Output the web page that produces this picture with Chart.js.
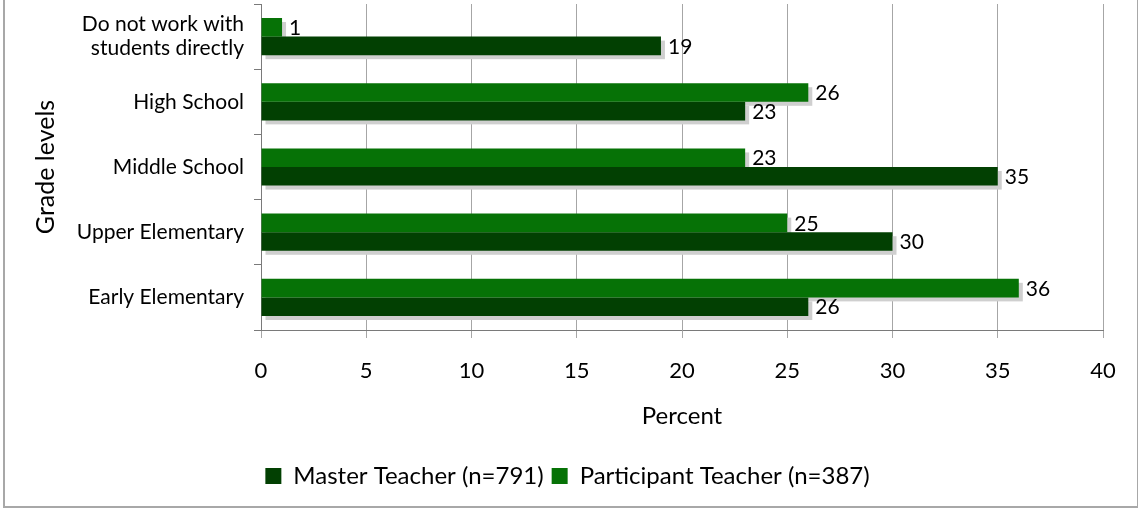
<!DOCTYPE html>
<html lang="en">
<head>
    <meta charset="UTF-8">
    <title>Grade levels</title>
    <script src="https://cdn.jsdelivr.net/npm/chart.js"></script>
    <style>
        html, body { margin: 0; padding: 0; background: #fff; }
        #wrap { position: relative; width: 1138px; height: 508px; }
        #frame {
            position: absolute; left: 3px; top: -10px; width: 1136px; height: 518px;
            border: 2px solid #a8a8a8; box-sizing: border-box; pointer-events: none;
        }
    </style>
</head>
<body>
    <div id="wrap">
        <canvas id="chart"></canvas>
        <div id="frame"></div>
    </div>

    <script>
        // Datos (de arriba hacia abajo)
        const categorias = [['Do not work with', 'students directly'], 'High School', 'Middle School', 'Upper Elementary', 'Early Elementary'];
        const participante = [1, 26, 23, 25, 36];
        const maestro = [19, 23, 35, 30, 26];
        const ticksX = [0, 5, 10, 15, 20, 25, 30, 35, 40];

        const FONT = 'Lato, "DejaVu Sans", sans-serif';

        // Sombra gris debajo de cada barra
        const sombra = {
            id: 'sombra',
            beforeDatasetsDraw(chart) {
                const ctx = chart.ctx;
                ctx.save();
                ctx.fillStyle = '#cfcfcf';
                chart.data.datasets.forEach((ds, i) => {
                    const meta = chart.getDatasetMeta(i);
                    meta.data.forEach(bar => {
                        const p = bar.getProps(['x', 'y', 'base', 'height'], true);
                        ctx.fillRect(p.base + 4, p.y - p.height / 2 + 4, p.x - p.base, p.height);
                    });
                });
                ctx.restore();
            }
        };

        // Etiquetas de valor
        const etiquetas = {
            id: 'etiquetas',
            afterDatasetsDraw(chart) {
                const ctx = chart.ctx;
                ctx.save();
                ctx.font = '21px ' + FONT;
                ctx.fillStyle = '#000';
                ctx.textBaseline = 'middle';
                ctx.textAlign = 'left';
                chart.data.datasets.forEach((ds, i) => {
                    const meta = chart.getDatasetMeta(i);
                    meta.data.forEach((bar, j) => {
                        const p = bar.getProps(['x', 'y'], true);
                        ctx.fillText(String(ds.data[j]), p.x + 7, p.y + 1);
                    });
                });
                ctx.restore();
            }
        };

        const ctx = document.getElementById('chart').getContext('2d');
        const chart = new Chart(ctx, {
            type: 'bar',
            data: {
                labels: categorias,
                datasets: [
                    {
                        label: 'Participant Teacher (n=387)',
                        data: participante,
                        backgroundColor: '#067206',
                        borderWidth: 0,
                        categoryPercentage: 0.57,
                        barPercentage: 1.0
                    },
                    {
                        label: 'Master Teacher (n=791)',
                        data: maestro,
                        backgroundColor: '#024002',
                        borderWidth: 0,
                        categoryPercentage: 0.57,
                        barPercentage: 1.0
                    }
                ]
            },
            options: {
                indexAxis: 'y',
                responsive: true,
                maintainAspectRatio: false,
                animation: false,
                layout: {
                    padding: { top: 4, right: 3, left: 0, bottom: 10 }
                },
                plugins: {
                    tooltip: { enabled: false },
                    legend: {
                        position: 'bottom',
                        reverse: true,
                        labels: {
                            boxWidth: 16,
                            boxHeight: 16,
                            padding: 8,
                            color: '#000',
                            font: { family: FONT, size: 24 }
                        }
                    }
                },
                scales: {
                    x: {
                        min: 0,
                        max: 40,
                        afterBuildTicks: s => { s.ticks = ticksX.map(v => ({ value: v })); },
                        afterFit: s => { s.height = 126; },
                        ticks: {
                            color: '#000',
                            padding: 20,
                            font: { family: FONT, size: 22 }
                        },
                        grid: {
                            color: '#a6a6a6',
                            tickLength: 8
                        },
                        border: { color: '#7a7a7a' },
                        title: {
                            display: true,
                            text: 'Percent',
                            color: '#000',
                            padding: { top: 0, bottom: 25 },
                            font: { family: FONT, size: 24 }
                        }
                    },
                    y: {
                        afterFit: s => { s.width = 261; s.paddingTop = 0; s.paddingBottom = 0; },
                        ticks: {
                            color: '#000',
                            padding: 10,
                            font: { family: FONT, size: 21, lineHeight: 1.15 }
                        },
                        grid: {
                            drawOnChartArea: false,
                            color: '#7a7a7a',
                            tickLength: 7
                        },
                        border: { color: '#7a7a7a' },
                        title: {
                            display: true,
                            text: 'Grade levels',
                            color: '#000',
                            padding: { top: 31, bottom: 0 },
                            font: { family: FONT, size: 25 }
                        }
                    },
                    // espacio a la derecha (el área del gráfico termina antes que la leyenda)
                    derecha: {
                        type: 'linear',
                        position: 'right',
                        afterFit: s => { s.width = 32; },
                        grid: { display: false },
                        ticks: { display: false },
                        border: { display: false }
                    }
                }
            },
            plugins: [sombra, etiquetas]
        });
    </script>
</body>
</html>
